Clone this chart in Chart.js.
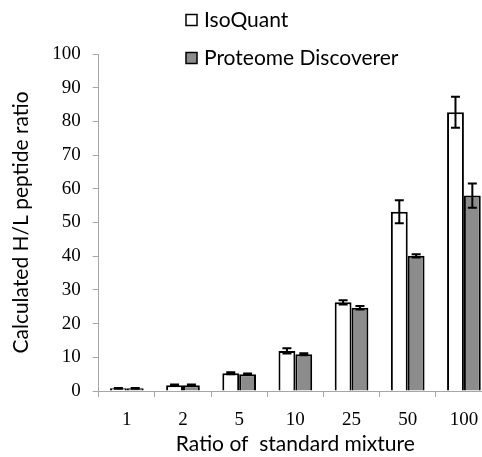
<!DOCTYPE html>
<html>
<head>
<meta charset="utf-8">
<script src="https://cdn.jsdelivr.net/npm/chart.js@4"></script>
<style>
  body { margin: 0; overflow: hidden; background: #fff; }
  #wrap { width: 500px; height: 457px; }
</style>
</head>
<body>
<div id="wrap"><canvas id="myChart" width="500" height="457"></canvas></div>
<script>
// ratios of the standard mixture (x categories)
const categories = ['1', '2', '5', '10', '25', '50', '100'];
const seriesNames = ['IsoQuant', 'Proteome Discoverer'];

// calculated H/L ratios
const isoQuant = [0.8, 1.7, 5.3, 11.9, 26.3, 53.2, 82.7];
const isoQuantErr = [0.1, 0.2, 0.3, 0.8, 0.6, 3.4, 4.6];
const proteomeDisc = [0.8, 1.7, 5.0, 10.9, 24.7, 40.1, 58.0];
const proteomeDiscErr = [0.1, 0.2, 0.2, 0.3, 0.5, 0.5, 3.6];

const yTicks = [0, 10, 20, 30, 40, 50, 60, 70, 80, 90, 100];

const labelFont = "'Lato', 'Open Sans', sans-serif";
const numFont = "'Liberation Serif', serif";
const axisGrey = '#a6a6a6';

// error bars drawn through the y scale
const errorBars = {
  id: 'errorBars',
  afterDatasetsDraw(chart) {
    const ctx = chart.ctx;
    const y = chart.scales.y;
    ctx.save();
    ctx.strokeStyle = '#000';
    ctx.lineWidth = 2;
    chart.data.datasets.forEach((ds, di) => {
      const meta = chart.getDatasetMeta(di);
      meta.data.forEach((bar, i) => {
        const v = ds.data[i], e = ds.errors[i];
        const top = y.getPixelForValue(v + e);
        const bot = y.getPixelForValue(v - e);
        const x = bar.x, cap = 4.5;
        ctx.beginPath();
        ctx.moveTo(x, top); ctx.lineTo(x, bot);
        ctx.moveTo(x - cap, top); ctx.lineTo(x + cap, top);
        ctx.moveTo(x - cap, bot); ctx.lineTo(x + cap, bot);
        ctx.stroke();
      });
    });
    ctx.restore();
  }
};

// legend stacked vertically above the plot
const sideLegend = {
  id: 'sideLegend',
  afterDraw(chart) {
    const ctx = chart.ctx;
    ctx.save();
    ctx.font = '21px ' + labelFont;
    ctx.textBaseline = 'middle';
    chart.data.datasets.forEach((ds, i) => {
      const cy = 20 + i * 38;
      ctx.fillStyle = ds.backgroundColor;
      ctx.fillRect(186, cy - 5.5, 11, 11);
      ctx.strokeStyle = '#000';
      ctx.lineWidth = 1.5;
      ctx.strokeRect(186, cy - 5.5, 11, 11);
      ctx.fillStyle = '#000';
      ctx.fillText(ds.label, 204, cy);
    });
    ctx.restore();
  }
};

new Chart(document.getElementById('myChart').getContext('2d'), {
  type: 'bar',
  data: {
    labels: categories,
    datasets: [{
      label: seriesNames[0],
      data: isoQuant,
      errors: isoQuantErr,
      backgroundColor: '#ffffff',
      borderColor: '#000',
      borderWidth: 2
    }, {
      label: seriesNames[1],
      data: proteomeDisc,
      errors: proteomeDiscErr,
      backgroundColor: '#8c8c8c',
      borderColor: '#000',
      borderWidth: 2
    }]
  },
  options: {
    responsive: false,
    animation: false,
    events: [],
    categoryPercentage: 0.6,
    barPercentage: 1.0,
    layout: { padding: { top: 54, right: 8, left: 5, bottom: 0 } },
    plugins: {
      legend: { display: false },
      tooltip: { enabled: false }
    },
    scales: {
      x: {
        grid: { drawOnChartArea: false, tickLength: 6, color: axisGrey, offset: true },
        border: { color: axisGrey },
        ticks: { color: '#000', font: { family: numFont, size: 19 }, padding: 12 },
        title: {
          display: true,
          text: 'Ratio of  standard mixture',
          color: '#000',
          font: { family: labelFont, size: 21 },
          padding: { top: -12, bottom: 0 }
        }
      },
      y: {
        min: 0,
        max: 100,
        afterBuildTicks(axis) { axis.ticks = yTicks.map(v => ({ value: v })); },
        grid: { drawOnChartArea: false, tickLength: 6, color: axisGrey },
        border: { color: axisGrey },
        ticks: { color: '#000', font: { family: numFont, size: 19 }, padding: 12 },
        title: {
          display: true,
          text: 'Calculated H/L peptide ratio',
          color: '#000',
          font: { family: labelFont, size: 21 },
          padding: { bottom: 6 }
        }
      }
    }
  },
  plugins: [errorBars, sideLegend]
});
</script>
</body>
</html>
